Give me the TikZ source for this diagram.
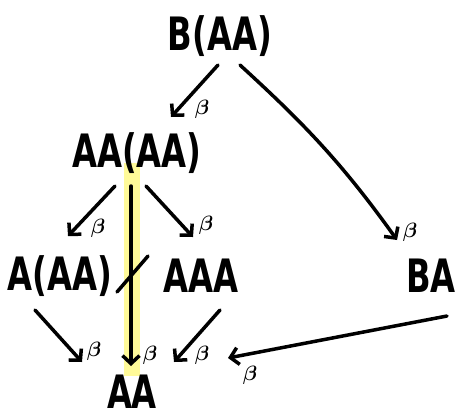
\documentclass[tikz,border=0pt]{standalone}
\usepackage{fontspec}
\setmainfont{DejaVu Sans Condensed}
\usetikzlibrary{arrows.meta}
\begin{document}
\begin{tikzpicture}[x=1pt,y=-1pt,
  term/.style={inner sep=0pt,font=\fontsize{46}{46}\selectfont\bfseries},
  red/.style={line width=3.5pt,line cap=round,-{Straight Barb[length=8pt,width=17pt,line width=3.5pt]}},
  lab/.style={inner sep=0pt,font=\fontsize{21}{21}\selectfont\boldmath}]
\useasboundingbox (0,0) rectangle (457,418);
\fill[yellow!40] (124,163) rectangle (140,376);
\node[term] (t0) at (220,36) {\scalebox{0.78}[1]{B(AA)}};
\node[term] (t1) at (137,153) {\scalebox{0.78}[1]{AA(AA)}};
\node[term] (t2) at (60,276) {\scalebox{0.78}[1]{A(AA)}};
\node[term] (t3) at (201,276) {\scalebox{0.78}[1]{AAA}};
\node[term,anchor=east] (t4) at (456,276) {\scalebox{0.78}[1]{BA}};
\node[term,anchor=south] (t5) at (132,409) {\scalebox{0.78}[1]{AA}};
\coordinate (a0s) at (218,65); \coordinate (a0e) at (171,117);
\coordinate (a1s) at (240,65); \coordinate (a1e) at (397,240);
\coordinate (a2s) at (115,186); \coordinate (a2e) at (68,236);
\coordinate (a3s) at (146,186); \coordinate (a3e) at (193,237);
\coordinate (a4s) at (131,186); \coordinate (a4e) at (131,366);
\coordinate (a5s) at (35,310); \coordinate (a5e) at (82,362);
\coordinate (a6s) at (220,310); \coordinate (a6e) at (174,362);
\coordinate (a7s) at (447,316); \coordinate (a7e) at (228,358);
\draw[red] (a0s) -- (a0e);
\draw[red] (a1s) .. controls (300,120) and (340,160) .. (a1e);
\draw[red] (a2s) -- (a2e);
\draw[red] (a3s) -- (a3e);
\draw[red] (a4s) -- (a4e);
\draw[red] (a5s) -- (a5e);
\draw[red] (a6s) -- (a6e);
\draw[red] (a7s) -- (a7e);
\coordinate (s0) at (117,292); \coordinate (s1) at (148,256);
\draw[line width=3.5pt,line cap=round] (s0) -- (s1);
\node[lab] (b0) at (202,109) {$\beta$};
\node[lab] (b1) at (410,232) {$\beta$};
\node[lab] (b2) at (98,228) {$\beta$};
\node[lab] (b3) at (206,225) {$\beta$};
\node[lab] (b4) at (94,351) {$\beta$};
\node[lab] (b5) at (150,355) {$\beta$};
\node[lab] (b6) at (202,355) {$\beta$};
\node[lab] (b7) at (250,375) {$\beta$};
\end{tikzpicture}
\end{document}
